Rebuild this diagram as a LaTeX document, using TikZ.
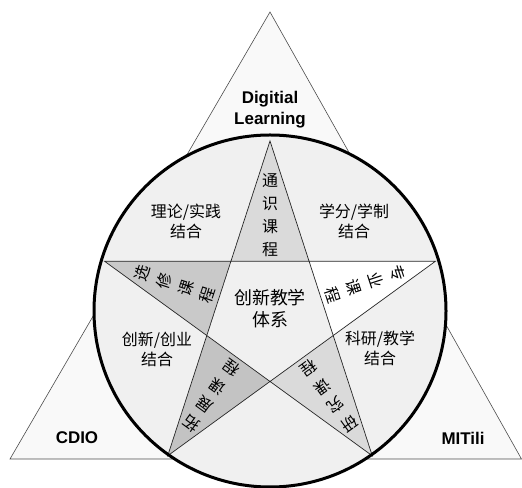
\documentclass[tikz,border=0pt]{standalone}
\usepackage{fontspec}
\newfontfamily\cjk{Noto Sans CJK SC}
\newfontfamily\lsans{Liberation Sans}
\usetikzlibrary{calc}
\definecolor{tribg}{gray}{0.975}
\definecolor{circbg}{gray}{0.94}
\definecolor{armlight}{gray}{0.855}
\definecolor{armdark}{gray}{0.79}
\begin{document}
\begin{tikzpicture}[x=1bp,y=1bp,
  zh/.style={font=\cjk\fontsize{16}{20}\selectfont,align=center,inner sep=0},
  zhbig/.style={font=\cjk\fontsize{18}{22}\selectfont,align=center,inner sep=0},
  armtext/.style={font=\cjk\fontsize{16}{23}\selectfont,align=center,inner sep=0},
  en/.style={font=\lsans\bfseries\fontsize{17}{21}\selectfont,align=center,inner sep=0}]
\useasboundingbox (0,0) rectangle (522,488);

% triangle behind
\draw[fill=tribg,draw=black!70,line width=0.6bp] (270,476) -- (10,29) -- (521.5,29) -- cycle;

% circle
\coordinate (C) at (270,177);
\fill[circbg] (C) circle (176);

% star
\coordinate (O) at (270,173);
\def\R{174}
\def\r{66.46}
\fill[armlight] ($(O)+(90:\R)$) -- ($(O)+(126:\r)$) -- ($(O)+(54:\r)$) -- cycle;
\fill[armdark] ($(O)+(162:\R)$) -- ($(O)+(198:\r)$) -- ($(O)+(126:\r)$) -- cycle;
\fill[armdark!97!black] ($(O)+(234:\R)$) -- ($(O)+(270:\r)$) -- ($(O)+(198:\r)$) -- cycle;
\fill[armlight] ($(O)+(306:\R)$) -- ($(O)+(342:\r)$) -- ($(O)+(270:\r)$) -- cycle;
\fill[white] ($(O)+(18:\R)$) -- ($(O)+(54:\r)$) -- ($(O)+(342:\r)$) -- cycle;
\draw[black!85,line width=0.7bp] ($(O)+(90:\R)$) -- ($(O)+(234:\R)$) -- ($(O)+(18:\R)$)
  -- ($(O)+(162:\R)$) -- ($(O)+(306:\R)$) -- cycle;

\draw[line width=3bp] (C) circle (176);

% arm labels
\foreach \a/\t [count=\i] in {90/{通\\识\\课\\程},162/{选\\修\\课\\程},234/{拓\\展\\课\\程},306/{研\\究\\课\\程},18/{专\\业\\课\\程}}
  \node[armtext,rotate=\a-90] (arm\i) at ($(O)+(\a:100)$) {\t};

\node[zhbig] (core) at (270,179) {创新教学\\体系};
\node[zh] (lt) at (186,267) {理论/实践\\结合};
\node[zh] (rt) at (354,267) {学分/学制\\结合};
\node[zh] (lb) at (157,139) {创新/创业\\结合};
\node[zh] (rb) at (380,140) {科研/教学\\结合};

\node[en] (dl) at (270,378) {Digitial\\Learning};
\node[en] (cdio) at (77,50) {CDIO};
\node[en] (mit) at (463,50) {MITili};
\end{tikzpicture}
\end{document}
